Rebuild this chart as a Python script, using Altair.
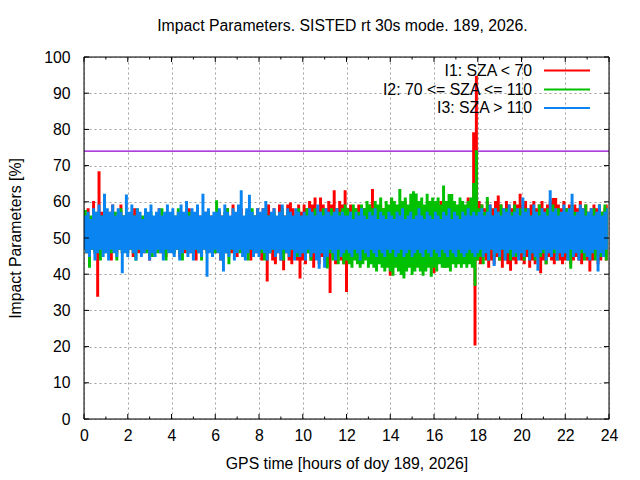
import altair as alt
import pandas as pd

# ---- values ----
# For every series: upper (hi) and lower (lo) turning points of the noisy trace,
# 8 of each per hour (16 per row = 2 hours), 0h .. 24h.
i1_hi = [
    56, 58, 55, 60, 56, 68.2, 57, 55, 56, 57, 59, 56, 55, 59, 56, 55,
    55, 56, 58, 55, 56, 55, 57, 55, 56, 55, 56, 58, 55, 56, 55, 56,
    56, 55, 57, 55, 56, 55, 58, 55, 56, 55, 56, 55, 57, 55, 56, 55,
    55, 57, 56, 55, 58, 55, 59, 55, 56, 58, 55, 56, 57, 55, 56, 58,
    56, 58, 55, 59, 56, 58, 55, 59, 58, 56, 59, 59.6, 58, 56, 59, 57,
    59, 58, 60, 59, 61, 58, 61, 59, 58, 60, 59, 63, 58, 60, 59, 63,
    58, 59, 57, 58, 59, 57, 58, 57, 59, 63.3, 58, 57, 59, 58, 57, 58,
    60.8, 58, 57, 58, 59, 60, 57, 58, 57, 59, 58, 57, 58, 57, 59, 58,
    58, 57, 60, 58, 57, 59, 58, 57, 58, 59, 58, 57, 61, 58, 79, 94.6,
    60, 59, 58, 60, 59, 58, 60, 61.5, 59, 58, 60, 59, 58, 60, 59, 62,
    59, 60, 58, 59, 60, 58, 59, 60, 58, 59, 60, 60.8, 60.8, 59, 58, 60,
    58, 59, 57, 59, 58, 60, 58, 59, 57, 58, 59, 58, 59, 57, 58, 59,
]
i1_lo = [
    50, 46, 45, 47, 46, 34, 47, 46, 47, 46, 44, 47, 46, 47, 46, 47,
    46, 47, 45, 47, 46, 47, 46, 47, 44, 47, 46, 47, 46, 47, 45, 47,
    47, 46, 47, 45, 47, 46, 47, 46, 47, 44, 47, 46, 47, 46, 47, 46,
    46, 47, 44, 47, 46, 47, 46, 47, 45, 47, 46, 47, 46, 44, 47, 46,
    46, 44, 47, 38.2, 46, 44, 43, 46, 44, 41.3, 46, 44, 43, 46, 44, 39,
    44, 43, 46, 44, 42, 46, 43, 45, 44, 43, 35, 46, 43, 45, 44, 43,
    35.3, 46, 45, 47, 44, 46, 45, 47, 46, 44, 47, 46, 45, 47, 46, 45,
    39.8, 46, 47, 45, 46, 47, 45, 46, 47, 45, 46, 47, 45, 46, 47, 46,
    40.5, 46, 47, 45, 46, 47, 45, 46, 47, 45, 46, 44, 45, 44, 44, 20.5,
    44, 43, 45, 44, 42, 44, 43, 45, 44, 42, 44, 43, 41.2, 44, 43, 45,
    44, 43, 45, 42, 44, 43, 45, 40.5, 44, 43, 45, 44, 43, 45, 44, 43,
    44, 45, 43, 44, 45, 44, 43, 45, 44, 41, 44, 45, 43, 44, 45, 44,
]

i2_hi = [
    57.5, 55, 56, 55, 57, 55, 56, 58, 55, 56, 55, 57, 55, 58, 56, 55,
    56, 55, 56, 58, 55, 56, 55, 56, 57, 55, 56, 55, 58, 55, 57, 56,
    55, 56, 58, 55, 56, 55, 57, 55, 56, 58, 55, 56, 55, 57, 55, 56,
    60.2, 56, 55, 57, 58, 55, 56, 55, 58, 56, 55, 57, 55, 58, 56, 55,
    56, 55, 58, 56, 55, 57, 55, 56, 58, 55, 57, 56, 55, 56, 58, 55,
    56, 58, 55, 56, 58, 55, 57, 58, 56, 55, 58, 57, 58, 57, 58, 59,
    58, 57, 59, 58, 57, 59, 58, 60, 59, 58, 60, 59, 61, 58, 60, 59,
    61, 60, 59, 63.3, 60, 61, 59, 62, 62.7, 62.1, 60, 61, 59, 62, 60, 61,
    60, 61, 59, 64.3, 60, 61.9, 61.9, 60, 59, 61, 60, 59, 60, 61, 65, 74,
    58, 59, 57, 61.1, 58, 56, 58, 57, 59, 56, 58, 56, 57, 59, 56, 58,
    56, 58, 57, 56, 58, 56, 59, 57, 56, 58, 56, 59, 57, 58, 56, 56,
    58, 56, 59, 57, 56, 58, 56, 59, 57, 56, 58, 56, 59, 57, 59, 58,
]
i2_lo = [
    50, 46, 42, 47, 46, 47, 44, 47, 46, 47, 46, 47, 44, 47, 46, 47,
    46, 47, 46, 44, 47, 46, 47, 46, 47, 45, 47, 46, 47, 46, 44, 47,
    47, 46, 47, 46, 44, 47, 46, 47, 46, 47, 46, 44, 47, 46, 47, 46,
    46, 47, 46, 47, 46, 43, 47, 46, 47, 46, 47, 46, 44, 47, 46, 47,
    47, 46, 44, 47, 46, 47, 46, 47, 46, 44, 47, 46, 47, 46, 45, 47,
    46, 47, 46, 44, 47, 46, 47, 46, 45, 41.8, 46, 44, 46, 43, 45, 43,
    44, 43, 42, 44, 43, 42, 43, 44, 42, 43, 42, 41, 43, 42, 41, 42,
    41, 39.8, 42, 41, 40, 39, 41, 42, 40, 41, 42, 41, 39.8, 41, 42, 39.5,
    42, 41, 43, 42, 41.9, 42, 41, 43, 42, 43, 42, 43, 42, 43, 42, 37,
    44, 45, 43, 46, 44, 47, 45, 46, 44, 47, 45, 46, 44, 47, 45, 46,
    46, 44, 47, 45, 46, 44, 47, 45, 46, 43, 47, 45, 46, 44, 47, 45,
    46, 44, 41.7, 46, 47, 45, 46, 44, 47, 45, 46, 44, 47, 45, 46, 44,
]

i3_hi = [
    56, 57, 55, 58, 57, 59, 56, 62, 58, 57, 59, 56, 58, 57, 56, 61.8,
    57, 59, 56, 58, 57, 55, 58, 57, 59, 56, 57, 58, 56, 57, 59, 57,
    58, 56, 57, 59, 57, 60, 56, 58, 57, 59, 56, 62, 57, 58, 56, 57,
    57, 58, 56, 59, 57, 56, 58, 57, 59, 63, 56, 58, 61.7, 57, 56, 58,
    57, 58, 60, 56, 57, 58, 56, 57, 59, 56, 58, 57, 56, 58, 57, 56,
    57, 56, 58, 57, 56, 59, 57, 56, 58, 57, 56, 57, 58, 56, 57, 56,
    56, 57, 55, 57, 56, 58, 56, 55, 57, 56, 58, 55, 57, 56, 55, 57,
    56, 55, 57, 56, 58, 55, 56, 57, 55, 56, 58, 56, 55, 57, 56, 55,
    57, 56, 55, 57, 56, 58, 55, 57, 56, 55, 57, 56, 58, 56, 57, 56,
    57, 58, 56, 57, 59, 56, 58, 57, 56, 58, 57, 59, 56, 57, 58, 56,
    61, 57, 58, 56, 59, 57, 56, 58, 57, 56, 63, 57, 58, 56, 57, 59,
    57, 58, 62, 56, 57, 59, 58, 56, 57, 58, 56, 57, 59, 56, 57, 58,
]
i3_lo = [
    47, 46, 45, 47, 44, 46, 47, 45, 46, 44, 47, 46, 45, 47, 40.5, 46,
    45, 47, 46, 44, 47, 45, 46, 47, 44, 46, 45, 47, 46, 44, 47, 46,
    46, 45, 47, 44, 46, 47, 45, 46, 44, 47, 46, 45, 47, 39.5, 46, 45,
    47, 46, 44, 41, 46, 45, 47, 44, 46, 47, 45, 44, 46, 47, 45, 46,
    45, 47, 46, 44, 46, 47, 45, 46, 44, 47, 46, 45, 47, 44, 46, 45,
    46, 44, 47, 45, 46, 44, 41.7, 46, 42, 45, 47, 46, 44, 47, 45, 46,
    47, 46, 45, 47, 46, 44, 47, 46, 45, 47, 46, 45, 47, 46, 45, 47,
    46, 47, 45, 46, 47, 45, 46, 47, 45, 46, 47, 46, 45, 47, 46, 45,
    47, 46, 45, 47, 46, 45, 47, 46, 45, 47, 46, 45, 46, 47, 46, 45,
    46, 47, 45, 46, 44, 47, 42.5, 46, 45, 47, 44, 46, 47, 45, 46, 44,
    46, 45, 47, 44, 46, 45, 41.2, 46, 47, 44, 46, 45, 47, 44, 46, 45,
    46, 44, 47, 45, 46, 44, 47, 46, 45, 44, 46, 47, 41, 46, 45, 47,
]

series_names = ["I1: SZA < 70", "I2: 70 <= SZA <= 110", "I3: SZA > 110"]
series_colors = ["#ff0000", "#00c000", "#0a84f0"]
series_hi = [i1_hi, i2_hi, i3_hi]
series_lo = [i1_lo, i2_lo, i3_lo]
threshold = [74]
x_major = list(range(0, 25, 2))
x_minor = list(range(1, 24, 2))
y_major = list(range(0, 101, 10))

title_text = "Impact Parameters. SISTED rt 30s mode. 189, 2026."
x_title = "GPS time [hours of doy 189, 2026]"
y_title = "Impact Parameters [%]"

FONT = "Liberation Sans"
FS = 15.8
W, H = 525, 362
STEP = 0.125  # hours between successive turning-point pairs

for v in series_hi + series_lo:
    assert len(v) == 192, len(v)

xs = alt.Scale(domain=[0, 24], nice=False, zero=False)
ys = alt.Scale(domain=[0, 100], nice=False, zero=False)

x_axis = alt.Axis(
    values=x_major, grid=True, gridColor="#a0a0a0", gridDash=[2, 3], gridWidth=1,
    ticks=False, domain=False, labelFont=FONT, labelFontSize=FS, labelColor="black",
    labelPadding=9, labelFlush=False, labelOverlap=False,
    title=x_title, titleFont=FONT, titleFontSize=FS, titleFontWeight="normal",
    titleColor="black", titleX=262.5, titleY=44, titleBaseline="middle", titleAlign="center",
)
y_axis = alt.Axis(
    values=y_major, grid=True, gridColor="#a0a0a0", gridDash=[2, 3], gridWidth=1,
    ticks=False, domain=False, labelFont=FONT, labelFontSize=FS, labelColor="black",
    labelPadding=14, labelFlush=False, labelOverlap=False,
    title=y_title, titleFont=FONT, titleFontSize=FS, titleFontWeight="normal",
    titleColor="black", titleX=-69, titleY=181, titleBaseline="middle", titleAlign="center",
)


def X(field):
    return alt.X(field, scale=xs, axis=x_axis)


def Y(field):
    return alt.Y(field, scale=ys, axis=y_axis)


thr = alt.Chart(pd.DataFrame({"v": threshold})).mark_rule(
    color="#9400d3", strokeWidth=1.2
).encode(y=Y("v:Q"))

layers = [thr]
for name, col, his, los in zip(series_names, series_colors, series_hi, series_lo):
    rows = []
    for k, (h, l) in enumerate(zip(his, los)):
        rows.append({"hour": k * STEP, "value": l})
        rows.append({"hour": k * STEP + STEP / 2, "value": h})
    df = pd.DataFrame(rows)
    layers.append(
        alt.Chart(df).mark_line(color=col, strokeWidth=1.6, interpolate="step", clip=True)
        .encode(x=X("hour:Q"), y=Y("value:Q"))
    )

# inward ticks on all four sides
dx_major = pd.DataFrame({"hour": x_major})
dx_minor = pd.DataFrame({"hour": x_minor})
dy_major = pd.DataFrame({"v": y_major})
TK, TKm = 5, 2.5
for dfx, L in ((dx_major, TK), (dx_minor, TKm)):
    layers.append(alt.Chart(dfx).mark_rule(color="black", strokeWidth=1).encode(
        x=X("hour:Q"), y=alt.value(H), y2=alt.value(H - L)))
    layers.append(alt.Chart(dfx).mark_rule(color="black", strokeWidth=1).encode(
        x=X("hour:Q"), y=alt.value(0), y2=alt.value(L)))
layers.append(alt.Chart(dy_major).mark_rule(color="black", strokeWidth=1).encode(
    y=Y("v:Q"), x=alt.value(0), x2=alt.value(TK)))
layers.append(alt.Chart(dy_major).mark_rule(color="black", strokeWidth=1).encode(
    y=Y("v:Q"), x=alt.value(W), x2=alt.value(W - TK)))

# frame
for enc in (dict(x=alt.value(0)), dict(x=alt.value(W)), dict(y=alt.value(0)), dict(y=alt.value(H))):
    layers.append(alt.Chart(pd.DataFrame({"a": [0]})).mark_rule(color="black", strokeWidth=1).encode(**enc))

# legend (label left, line sample right, as in gnuplot)
leg_y = [13.5, 32.5, 51]
for name, col, yy in zip(series_names, series_colors, leg_y):
    layers.append(alt.Chart(pd.DataFrame({"label": [name]})).mark_text(
        align="right", baseline="middle", font=FONT, fontSize=FS, color="black"
    ).encode(text="label:N", x=alt.value(448), y=alt.value(yy)))
    layers.append(alt.Chart(pd.DataFrame({"label": [name]})).mark_rule(
        color=col, strokeWidth=2
    ).encode(x=alt.value(460), x2=alt.value(506), y=alt.value(yy)))

chart = alt.layer(*layers).properties(
    width=W, height=H,
    autosize=alt.AutoSizeParams(type="none"),
    padding={"left": 76, "top": 49, "right": 23, "bottom": 53},
    title=alt.TitleParams(title_text, font=FONT, fontSize=FS, fontWeight="normal",
                          color="black", anchor="middle", offset=14, dx=-4),
).configure_view(stroke="transparent").configure(background="white")

chart.save("out.html", embed_options={"renderer": "svg", "actions": False})
